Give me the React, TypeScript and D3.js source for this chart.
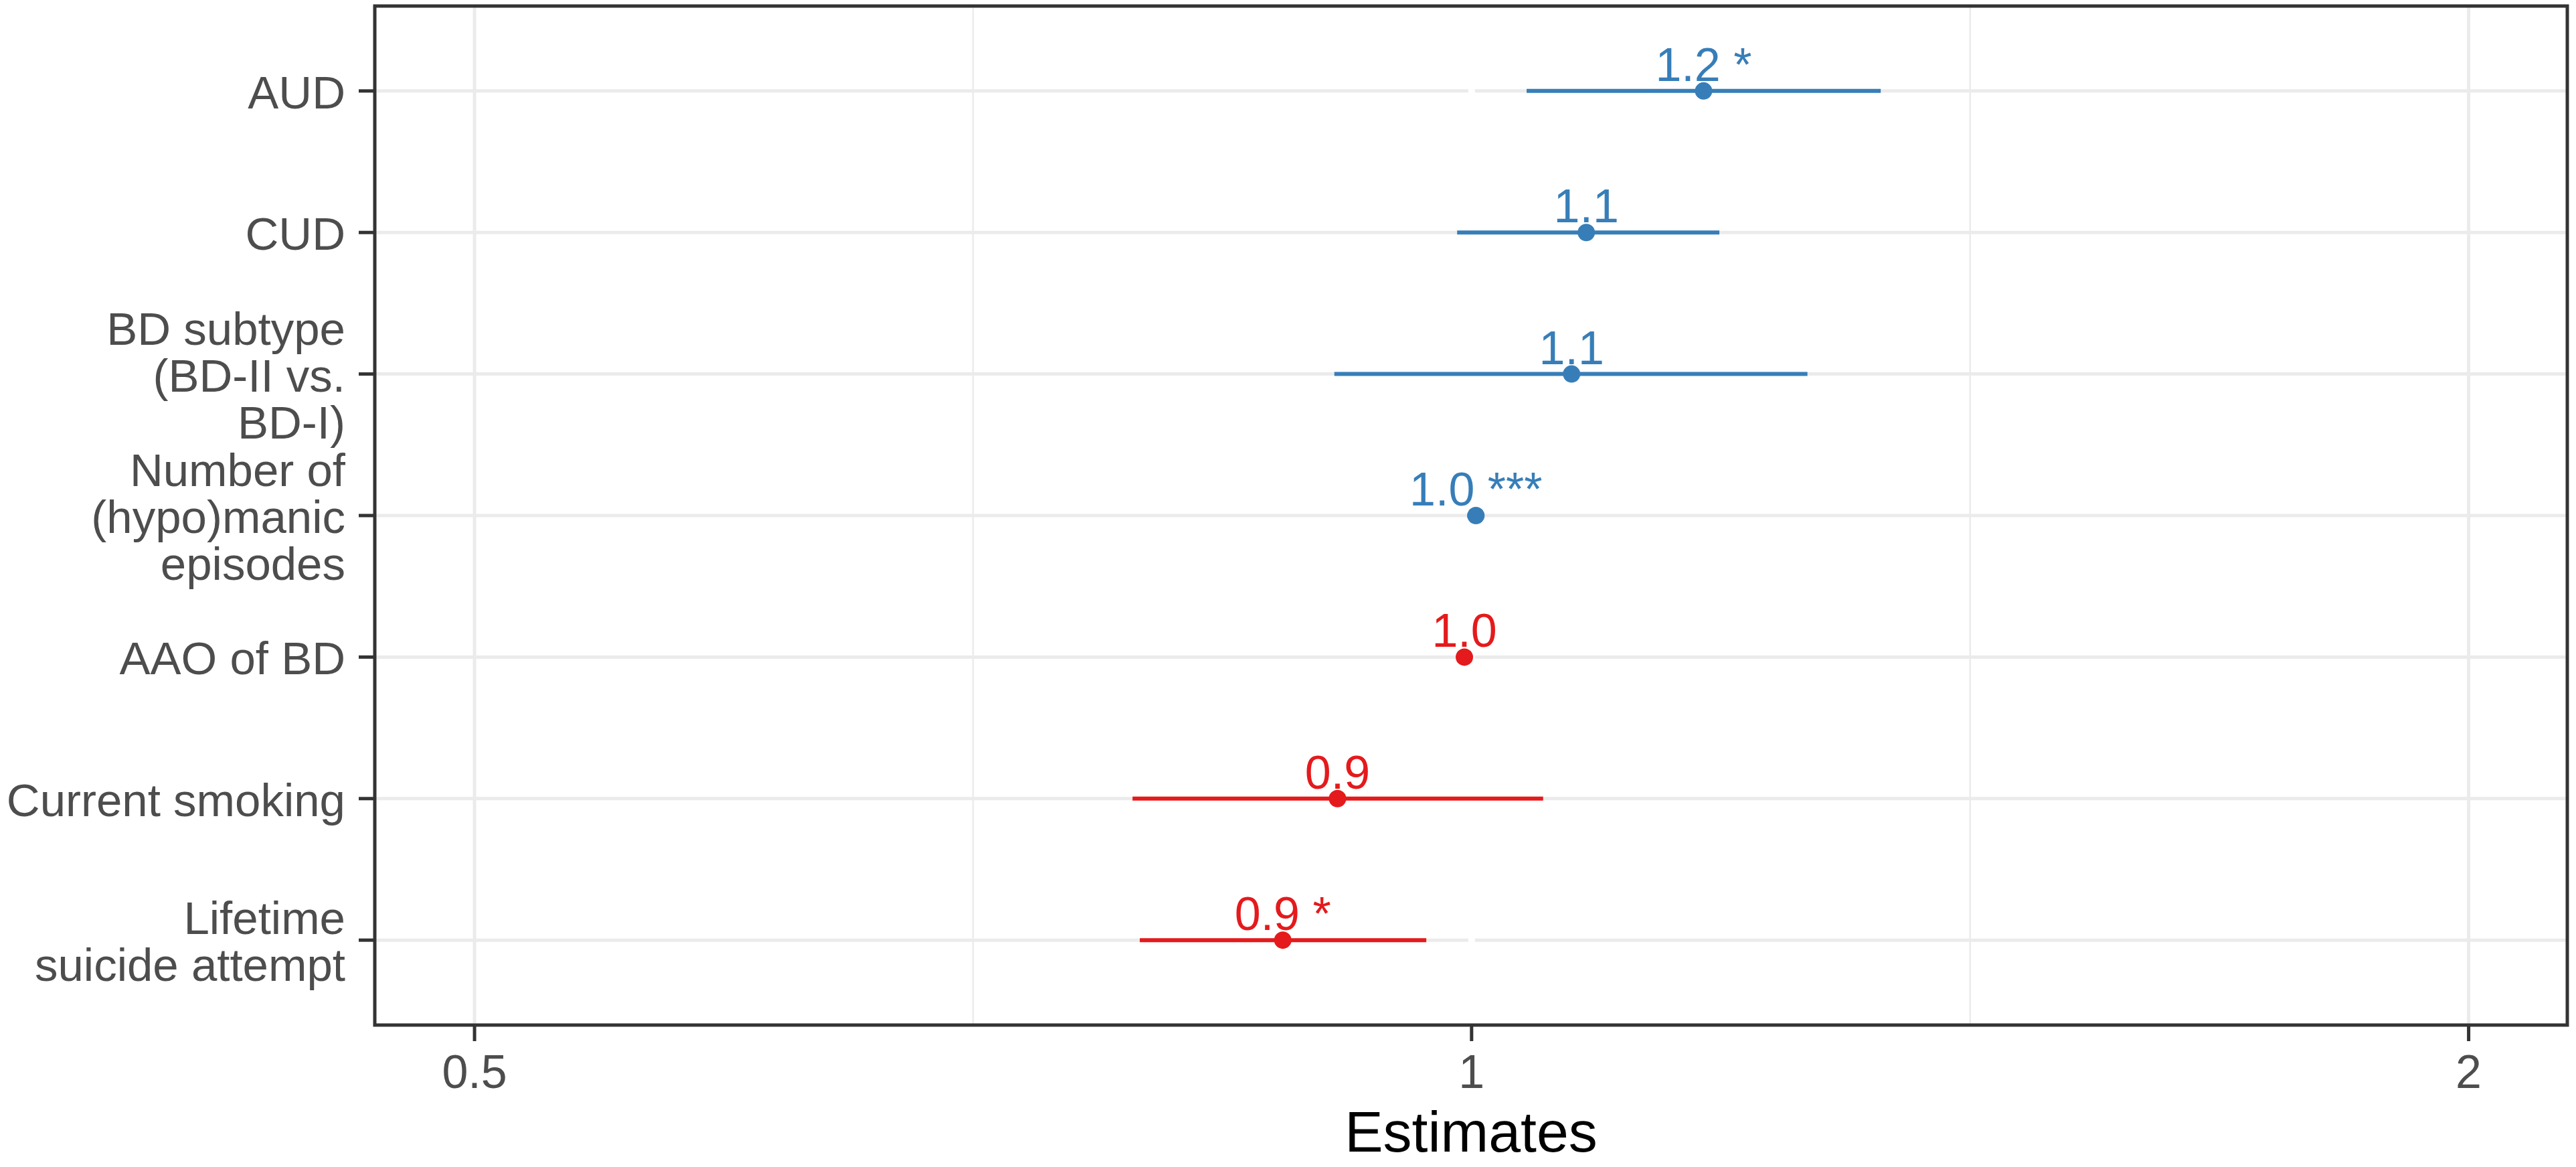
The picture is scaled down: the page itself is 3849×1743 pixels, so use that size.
import React, { useEffect } from "react";
import * as d3 from "d3";

// ---- data ----
const terms = [
  "AUD",
  "CUD",
  "BD subtype (BD-II vs. BD-I)",
  "Number of (hypo)manic episodes",
  "AAO of BD",
  "Current smoking",
  "Lifetime suicide attempt",
];
const termLabelLines = [
  ["AUD"],
  ["CUD"],
  ["BD subtype", "(BD-II vs.", "BD-I)"],
  ["Number of", "(hypo)manic", "episodes"],
  ["AAO of BD"],
  ["Current smoking"],
  ["Lifetime", "suicide attempt"],
];
const estimates = [1.175, 1.083, 1.072, 1.003, 0.995, 0.911, 0.877];
const ciLow = [1.039, 0.99, 0.909, 0.997, 0.99, 0.79, 0.794];
const ciHigh = [1.329, 1.188, 1.263, 1.009, 1.0, 1.051, 0.969];
const stars = ["*", "", "", "***", "", "", "*"];
const xTicks = [0.5, 1, 2];
const xTickLabels = ["0.5", "1", "2"];
const xMinor = [Math.SQRT1_2, Math.SQRT2];
const xDomain = [0.4665, 2.142];
const axisTitle = "Estimates";

const W = 3849;
const H = 1743;
const panel = { left: 560, right: 3836, top: 9, bottom: 1531 };
const FONT = "'Liberation Sans', Arial, Helvetica, sans-serif";
const BLUE = "#377eb8";
const RED = "#e41a1c";

export default function App() {
  useEffect(() => {
    document.body.style.margin = "0";
    document.body.style.overflow = "hidden";
  }, []);

  const x = d3.scaleLog().domain(xDomain).range([panel.left, panel.right]);
  const y = d3
    .scalePoint<string>()
    .domain(terms)
    .range([panel.top, panel.bottom])
    .padding(0.6);

  const fs = 69;
  const lineH = 70;

  return (
    <svg
      width={W}
      height={H}
      viewBox={`0 0 ${W} ${H}`}
      style={{ position: "absolute", left: 0, top: 0, background: "#fff" }}
      fontFamily={FONT}
    >
      <rect x={0} y={0} width={W} height={H} fill="#fff" />
      {/* minor vertical grid */}
      {xMinor.map((v, i) => (
        <line
          key={"mn" + i}
          x1={x(v)}
          x2={x(v)}
          y1={panel.top}
          y2={panel.bottom}
          stroke="#ebebeb"
          strokeWidth={2.5}
        />
      ))}
      {/* major vertical grid */}
      {xTicks.map((v, i) => (
        <line
          key={"mj" + i}
          x1={x(v)}
          x2={x(v)}
          y1={panel.top}
          y2={panel.bottom}
          stroke="#ebebeb"
          strokeWidth={5}
        />
      ))}
      {/* major horizontal grid */}
      {terms.map((t) => (
        <line
          key={"hg" + t}
          x1={panel.left}
          x2={panel.right}
          y1={y(t)}
          y2={y(t)}
          stroke="#ebebeb"
          strokeWidth={5}
        />
      ))}
      {/* reference line at 1 (white) */}
      <line
        x1={x(1)}
        x2={x(1)}
        y1={panel.top}
        y2={panel.bottom}
        stroke="#ffffff"
        strokeWidth={10}
      />
      {/* error bars, points, labels */}
      {terms.map((t, i) => {
        const col = estimates[i] > 1 ? BLUE : RED;
        const yy = y(t) as number;
        const lab = estimates[i].toFixed(1) + (stars[i] ? " " + stars[i] : "");
        return (
          <g key={"d" + t}>
            <line
              x1={x(ciLow[i])}
              x2={x(ciHigh[i])}
              y1={yy}
              y2={yy}
              stroke={col}
              strokeWidth={6}
            />
            <circle cx={x(estimates[i])} cy={yy} r={13} fill={col} />
            <text
              x={x(estimates[i])}
              y={yy - 15}
              textAnchor="middle"
              fontSize={70}
              fill={col}
            >
              {lab}
            </text>
          </g>
        );
      })}
      {/* panel border */}
      <rect
        x={panel.left}
        y={panel.top}
        width={panel.right - panel.left}
        height={panel.bottom - panel.top}
        fill="none"
        stroke="#333333"
        strokeWidth={5}
      />
      {/* y axis ticks and labels */}
      {terms.map((t, i) => {
        const yy = y(t) as number;
        const lines = termLabelLines[i];
        const n = lines.length;
        return (
          <g key={"yt" + t}>
            <line
              x1={panel.left - 24}
              x2={panel.left}
              y1={yy}
              y2={yy}
              stroke="#333333"
              strokeWidth={5}
            />
            <text textAnchor="end" fontSize={fs} fill="#4d4d4d">
              {lines.map((ln, j) => (
                <tspan
                  key={j}
                  x={516}
                  y={yy + 26 + (j - (n - 1) / 2) * lineH}
                >
                  {ln}
                </tspan>
              ))}
            </text>
          </g>
        );
      })}
      {/* x axis ticks and labels */}
      {xTicks.map((v, i) => (
        <g key={"xt" + i}>
          <line
            x1={x(v)}
            x2={x(v)}
            y1={panel.bottom}
            y2={panel.bottom + 24}
            stroke="#333333"
            strokeWidth={5}
          />
          <text
            x={x(v)}
            y={1625}
            textAnchor="middle"
            fontSize={70}
            fill="#4d4d4d"
          >
            {xTickLabels[i]}
          </text>
        </g>
      ))}
      <text
        x={(panel.left + panel.right) / 2}
        y={1720}
        textAnchor="middle"
        fontSize={86}
        fill="#000"
      >
        {axisTitle}
      </text>
    </svg>
  );
}
